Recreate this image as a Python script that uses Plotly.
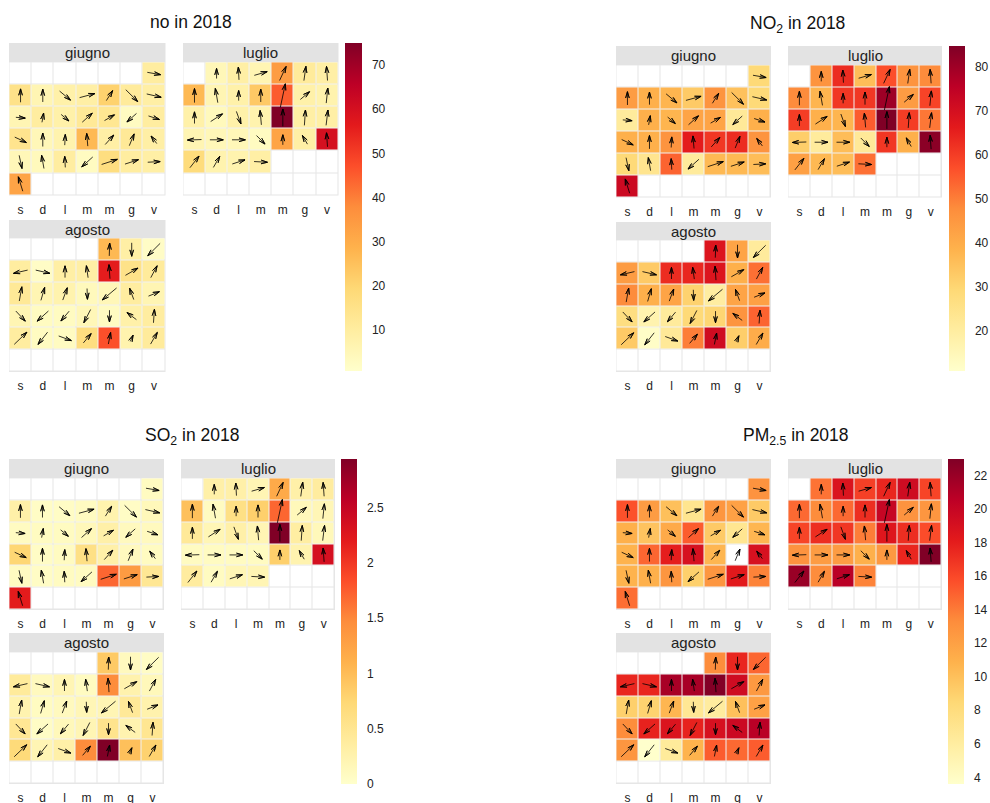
import math
import plotly.graph_objects as go

N = None
weekdays = ["s", "d", "l", "m", "m", "g", "v"]
months = ["giugno", "luglio", "agosto"]

# wind arrows: bearing (deg) and length (1/66 of a cell)
dir_giugno = [[N,N,N,N,N,N,100],
 [0,0,130,75,32,135,103],
 [95,10,130,48,60,228,108],
 [115,0,3,355,42,22,323],
 [168,350,357,228,72,72,87],
 [343,N,N,N,N,N,N]]
len_giugno = [[N,N,N,N,N,N,40],
 [40,38,42,47,35,50,44],
 [28,28,30,40,34,38,34],
 [38,40,32,38,38,38,28],
 [40,40,33,44,49,42,37],
 [45,N,N,N,N,N,N]]
dir_luglio = [[N,0,357,74,25,8,356],
 [0,350,0,0,12,50,6],
 [0,57,160,355,0,4,7],
 [268,90,90,135,0,330,356],
 [38,30,72,93,N,N,N],
 [N,N,N,N,N,N,N]]
len_luglio = [[N,30,38,40,46,43,42],
 [42,43,30,38,72,36,45],
 [35,42,40,43,52,46,46],
 [42,40,40,36,30,30,42],
 [44,38,40,40,N,N,N],
 [N,N,N,N,N,N,N]]
dir_agosto = [[N,N,N,N,2,180,225],
 [257,103,0,352,356,60,28],
 [10,16,20,178,230,340,68],
 [137,228,220,207,180,307,4],
 [46,218,110,40,11,24,30],
 [N,N,N,N,N,N,N]]
len_agosto = [[N,N,N,N,38,40,52],
 [43,43,35,36,42,43,40],
 [43,40,39,32,55,36,35],
 [41,45,38,44,35,35,40],
 [52,46,40,36,35,20,40],
 [N,N,N,N,N,N,N]]

no_giugno = [[N,N,N,N,N,N,10],[15,6,8,9,21,11,9],[6,10,8,12,13,3,10],[14,5,7,27,9,12,9],[5,4,10,3,17,10,9],[32,N,N,N,N,N,N]]
no_luglio = [[N,5,9,6,34,11,9],[27,6,8,23,45,8,7],[8,4,8,7,75,9,9],[6,5,5,3,32,9,60],[18,7,7,9,N,N,N],[N]*7]
no_agosto = [[N,N,N,N,27,9,2],[10,2,9,9,56,15,11],[12,6,7,4,5,10,6],[6,3,3,5,3,8,10],[10,3,3,17,47,7,11],[N]*7]

no2_giugno = [[N,N,N,N,N,N,29],[44,39,38,33,46,35,29],[21,39,38,42,42,22,39],[39,39,46,66,61,63,46],[29,24,54,21,37,37,36],[72,N,N,N,N,N,N]]
no2_luglio = [[N,46,63,36,57,46,48],[48,38,61,61,80,44,59],[60,39,38,55,84.6,60,51],[32,21,36,22,61,39,83],[43,37,36,52,N,N,N],[N]*7]
no2_agosto = [[N,N,N,N,68,42,21],[44,33,63,64,68,39,52],[48,39,42,31,20,42,43],[27,17,21,29,30,46,54],[33,12,22,50,71,32,40],[N]*7]

so2_giugno = [[N,N,N,N,N,N,.09],[.3,.06,.06,.09,.25,.06,.15],[.09,.09,.09,.15,.3,.12,.12],[.75,.06,.09,.6,.3,.12,.09],[.09,.06,.09,.09,1.7,1.33,.47],[2.2,N,N,N,N,N,N]]
so2_luglio = [[N,.3,.3,.2,1.18,.3,.38],[.97,.09,.6,.82,1.7,.15,.18],[.44,.18,.3,.2,2.94,.35,.15],[.09,.09,.09,.09,.82,.24,2.35],[.38,.09,.18,.2,N,N,N],[N]*7]
so2_agosto = [[N,N,N,N,.88,.12,.06],[.41,.12,.2,.09,1.47,.26,.15],[.24,.09,.12,.18,.2,.44,.26],[.47,.06,.15,.2,.53,.24,.5],[.7,.2,.3,1.47,2.94,.97,.8],[N]*7]

pm_giugno = [[N,N,N,N,N,N,12.9],[15.6,12.3,10,7,12.7,12,9.4],[11,9.8,11.4,15.2,9.4,6.9,10.6],[10.8,14.8,18,19,10.6,N,19],[10.8,11,12.7,9,12.7,18.2,13.7],[14.5,N,N,N,N,N,N]]
pm_luglio = [[N,14.3,18.7,16.4,17.6,19.5,16.2],[14.7,13.3,14.7,17.2,20,12.9,12.7],[16.2,17.2,16.8,13.9,18.5,17.2,15.8],[12.9,12.3,12.3,11,12.5,17.6,23],[22,13.3,20.7,13.7,N,N,N],[N]*7]
pm_agosto = [[N,N,N,N,13.3,17.6,14.8],[17.6,17.6,21.4,21.4,22.9,19.5,12.5],[9,8.8,10.6,6.7,6.1,10,12],[13.3,17.8,18.7,17.8,19,19.7,20.7],[12.7,3.6,6.3,10.8,15.2,14.7,15.2],[N]*7]

no_ticks = [10, 20, 30, 40, 50, 60, 70]
no2_ticks = [20, 30, 40, 50, 60, 70, 80]
so2_ticks = [0, 0.5, 1, 1.5, 2, 2.5]
pm_ticks = [4, 6, 8, 10, 12, 14, 16, 18, 20, 22]

heat = ["#ffffcc", "#ffeda0", "#fed976", "#feb24c", "#fd8d3c", "#fc4e2a", "#e31a1c", "#bd0026", "#800026"]
W, H = 990, 803
fx = lambda p: p / W
fy = lambda p: 1 - p / H
GRID = "#e6e6e6"
STRIP = "#e3e3e3"
TXT = "#222222"

panels = [
 dict(title="no in 2018", tx=191, ty=22, data=[no_giugno, no_luglio, no_agosto], ticks=no_ticks, lim=(0.7, 75),
      xs=[(9, 165.5), (183, 338.5), (9, 165.5)], ys=[(43, 62, 195.5), (43, 62, 195.5), (220, 238, 372)], cb=(345, 362, 43, 371)),
 dict(title="NO<sub>2</sub> in 2018", tx=797, ty=24, data=[no2_giugno, no2_luglio, no2_agosto], ticks=no2_ticks, lim=(11, 84.6),
      xs=[(616, 771), (788, 942), (616, 771)], ys=[(46, 65, 197.5), (46, 65, 197.5), (222, 240, 372)], cb=(949, 965, 46, 371)),
 dict(title="SO<sub>2</sub> in 2018", tx=191.5, ty=437, data=[so2_giugno, so2_luglio, so2_agosto], ticks=so2_ticks, lim=(0, 2.94),
      xs=[(9, 164), (181, 335), (9, 164)], ys=[(459, 478, 610), (459, 478, 610), (633, 652, 784)], cb=(341, 357, 459, 784)),
 dict(title="PM<sub>2.5</sub> in 2018", tx=796, ty=437, data=[pm_giugno, pm_luglio, pm_agosto], ticks=pm_ticks, lim=(3.6, 23),
      xs=[(616, 771), (788, 942), (616, 771)], ys=[(459, 478, 610), (459, 478, 610), (633, 652, 784)], cb=(948, 964, 459, 784)),
]
arrow_dirs = [dir_giugno, dir_luglio, dir_agosto]
arrow_lens = [len_giugno, len_luglio, len_agosto]


def arrow_path(dirs, lens):
    xs, ys = [], []
    head, spread = 0.30, math.radians(16)
    for r, row in enumerate(dirs):
        for c, b in enumerate(row):
            if b is None:
                continue
            L = lens[r][c] / 66
            a = math.radians(b)
            ux, uy = math.sin(a), -math.cos(a)
            tipx, tipy = c + ux * L / 2, r + uy * L / 2
            xs += [c - ux * L / 2, tipx]
            ys += [r - uy * L / 2, tipy]
            for s in (-spread, spread):
                vx = ux * math.cos(s) - uy * math.sin(s)
                vy = ux * math.sin(s) + uy * math.cos(s)
                xs += [tipx - vx * head, tipx]
                ys += [tipy - vy * head, tipy]
            xs.append(None)
            ys.append(None)
    return xs, ys


fig = go.Figure()
layout = {}
shapes, annots = [], []
n = 0
for pi, p in enumerate(panels):
    ca = "coloraxis" + ("" if pi == 0 else str(pi + 1))
    x0, x1, y0, y1 = p["cb"]
    layout[ca] = dict(
        cmin=p["lim"][0], cmax=p["lim"][1],
        colorscale=[[i / 8, c] for i, c in enumerate(heat)],
        colorbar=dict(x=fx(x0), xanchor="left", xpad=0, ypad=0, thickness=x1 - x0, thicknessmode="pixels",
                      y=fy(y0), yanchor="top", len=(y1 - y0) / H, lenmode="fraction",
                      outlinewidth=0, borderwidth=0, tickvals=p["ticks"], ticktext=[str(t) for t in p["ticks"]],
                      ticks="outside", ticklen=8, tickcolor="rgba(0,0,0,0)",
                      tickfont=dict(size=12, color=TXT)))
    annots.append(dict(text=p["title"], x=fx(p["tx"]), y=fy(p["ty"]), xref="paper", yref="paper", showarrow=False,
                       xanchor="center", yanchor="middle", font=dict(size=17.5, color="#111111")))
    for m in range(3):
        n += 1
        sfx = "" if n == 1 else str(n)
        ax_x, ax_y = "x" + sfx, "y" + sfx
        xa, xb = p["xs"][m]
        ys, yt, yb = p["ys"][m]
        layout["xaxis" + sfx] = dict(domain=[fx(xa), fx(xb)], range=[-0.52, 6.52], tickvals=list(range(7)),
                                     ticktext=weekdays, ticks="outside", ticklen=3, tickcolor="rgba(0,0,0,0)",
                                     showgrid=False, zeroline=False, showline=False, fixedrange=True,
                                     tickfont=dict(size=12, color=TXT), anchor=ax_y)
        layout["yaxis" + sfx] = dict(domain=[fy(yb), fy(yt)], range=[5.52, -0.52], visible=False, showgrid=False,
                                     zeroline=False, fixedrange=True, anchor=ax_x)
        shapes.append(dict(type="rect", xref="paper", yref="paper", x0=fx(xa), x1=fx(xb), y0=fy(yt), y1=fy(ys),
                           fillcolor=STRIP, line_width=0, layer="below"))
        annots.append(dict(text=months[m], x=fx((xa + xb) / 2), y=fy((ys + yt) / 2), xref="paper", yref="paper",
                           showarrow=False, xanchor="center", yanchor="middle", font=dict(size=15, color=TXT)))
        fig.add_trace(go.Heatmap(z=[[0] * 7 for _ in range(6)], colorscale=[[0, "white"], [1, "white"]], showscale=False,
                                 xgap=1, ygap=1, hoverinfo="skip", xaxis=ax_x, yaxis=ax_y))
        fig.add_trace(go.Heatmap(z=p["data"][m], coloraxis=ca, xgap=1, ygap=1, xaxis=ax_x, yaxis=ax_y, hoverinfo="z"))
        ax, ay = arrow_path(arrow_dirs[m], arrow_lens[m])
        fig.add_trace(go.Scatter(x=ax, y=ay, mode="lines", line=dict(color="black", width=0.8), hoverinfo="skip",
                                 showlegend=False, xaxis=ax_x, yaxis=ax_y))
        # plot background shows through the cell gaps as the grid
        shapes.append(dict(type="rect", xref=ax_x + " domain", yref=ax_y + " domain", x0=0, x1=1, y0=0, y1=1,
                           fillcolor=GRID, line_width=0, layer="below"))

fig.update_layout(width=W, height=H, autosize=False, margin=dict(l=0, r=0, t=0, b=0, pad=0, autoexpand=False),
                  paper_bgcolor="white", plot_bgcolor="rgba(0,0,0,0)", showlegend=False,
                  font=dict(family="Liberation Sans, Arial, sans-serif"), shapes=shapes, annotations=annots, **layout)
fig.write_html("out.html", config={"displayModeBar": False},
               post_script="document.body.style.margin='0';")
